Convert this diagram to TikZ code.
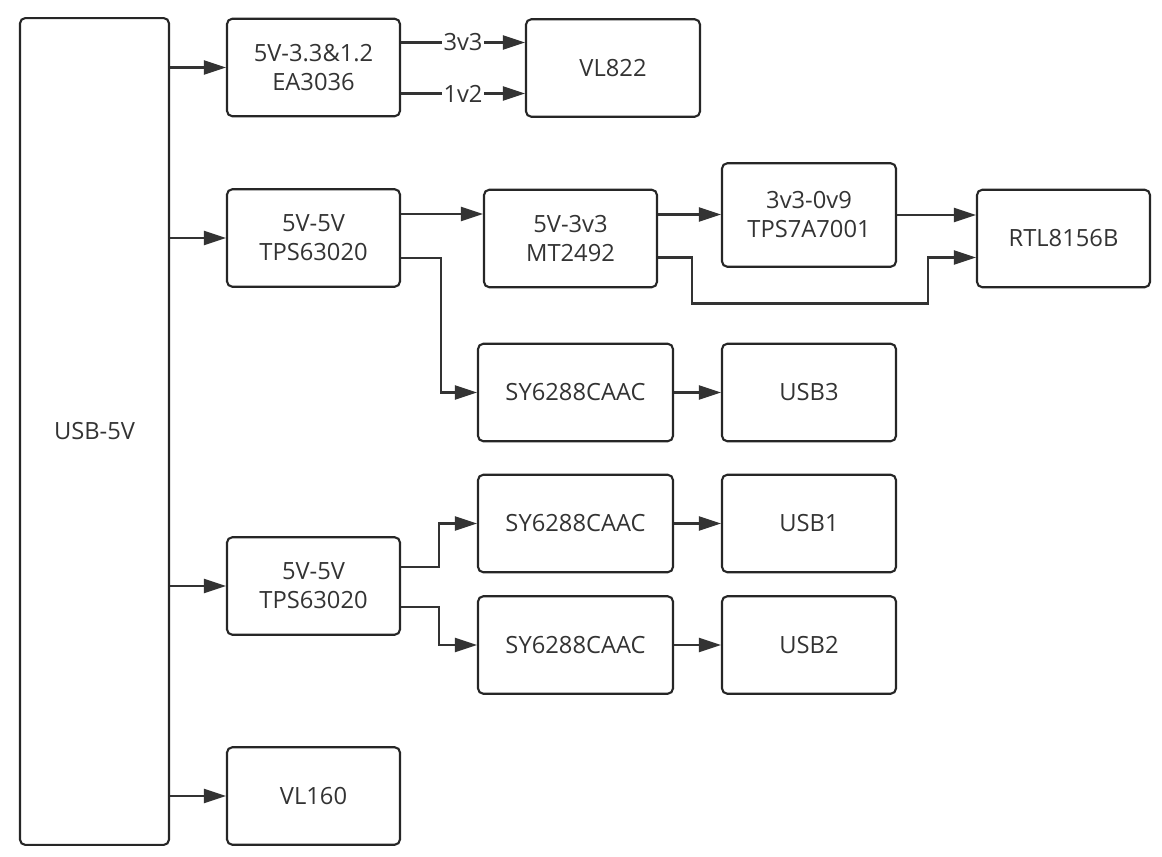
\documentclass[tikz,border=0pt]{standalone}
\usepackage{fontspec}
\setmainfont{Open Sans}
\usepackage{tikz}
\usetikzlibrary{arrows.meta,positioning}

\begin{document}
\begin{tikzpicture}[
  x=0.02cm, y=-0.02cm,
  blk/.style={rectangle, draw=black!85, line width=1.2pt, rounded corners=3pt,
              minimum width=3.46cm, minimum height=1.95cm, align=center,
              font=\fontsize{13.5}{16.5}\selectfont, text=black!80},
  wide_blk/.style={blk, minimum width=3.9cm},
  arrow/.style={-{Triangle[length=0.44cm, width=0.28cm]}, black!80, line width=1.3pt},
  wire_label/.style={fill=white, inner sep=1pt, font=\fontsize{13.5}{16}\selectfont, text=black!80}
]
\useasboundingbox (0,0) rectangle (1162,857);

% Column x-positions (px)
\def\xA{313.5}
\def\xB{575.5}
\def\xC{809}

% Supply rail
\node[blk, minimum width=2.98cm, minimum height=16.54cm] (usb) at (94.5,431.5) {USB-5V};

% First column
\node[blk] (ea)    at (\xA,67.5) {5V-3.3\&1.2\\EA3036};
\node[blk] (tpsA)  at (\xA,238)  {5V-5V\\TPS63020};
\node[blk] (tpsB)  at (\xA,586)  {5V-5V\\TPS63020};
\node[blk] (vl160) at (\xA,796)  {VL160};

% Second column
\node[blk, minimum width=3.48cm] (vl822) at (613,68)   {VL822};
\node[blk] (mt)    at (570.5,238.5) {5V-3v3\\MT2492};
\node[wide_blk] (syA) at (\xB,392.5) {SY6288CAAC};
\node[wide_blk] (syB) at (\xB,523.5) {SY6288CAAC};
\node[wide_blk] (syC) at (\xB,645)   {SY6288CAAC};

% Third column
\node[blk, minimum width=3.48cm, minimum height=2.07cm] (tps7a) at (\xC,215) {3v3-0v9\\TPS7A7001};
\node[blk, minimum width=3.48cm] (usb3) at (\xC,392.5) {USB3};
\node[blk, minimum width=3.48cm] (usb1) at (\xC,523.5) {USB1};
\node[blk, minimum width=3.48cm] (usb2) at (\xC,645)   {USB2};

% Last column
\node[blk] (rtl) at (1063.5,238.5) {RTL8156B};

% Rail -> first column
\foreach \n in {ea,tpsA,tpsB,vl160}{
  \draw[arrow] (usb.east |- \n.west) -- (\n.west);
}

% EA3036 -> VL822
\draw[arrow] ([shift={(0,-25)}]ea.east) -- node[wire_label]{3v3} ([shift={(0,-25)}]ea.east -| vl822.west);
\draw[arrow] ([shift={(0,26)}]ea.east) -- node[wire_label]{1v2} ([shift={(0,26)}]ea.east -| vl822.west);

% Upper TPS63020 branch
\draw[arrow] ([shift={(0,-24)}]tpsA.east) -- ([shift={(0,-24)}]tpsA.east -| mt.west);
\draw[arrow] ([shift={(0,20)}]tpsA.east) -- ++(40,0) |- (syA.west);
\draw[arrow] ([shift={(0,-24)}]mt.east) -- ([shift={(0,-24)}]mt.east -| tps7a.west);
\draw[arrow] (tps7a.east) -- (tps7a.east -| rtl.west);
\draw[arrow] ([shift={(0,19)}]mt.east) -- ++(34,0) -- ++(0,46)
  -| ([shift={(-48,19)}]rtl.west) -- ([shift={(0,19)}]rtl.west);

% Lower TPS63020 branch
\draw[arrow] ([shift={(0,-19)}]tpsB.east) -- ++(38,0) |- (syB.west);
\draw[arrow] ([shift={(0,21)}]tpsB.east) -- ++(38,0) |- (syC.west);

% Switches -> ports
\foreach \a/\b in {syA/usb3,syB/usb1,syC/usb2}{
  \draw[arrow] (\a) -- (\b);
}

\end{tikzpicture}
\end{document}
